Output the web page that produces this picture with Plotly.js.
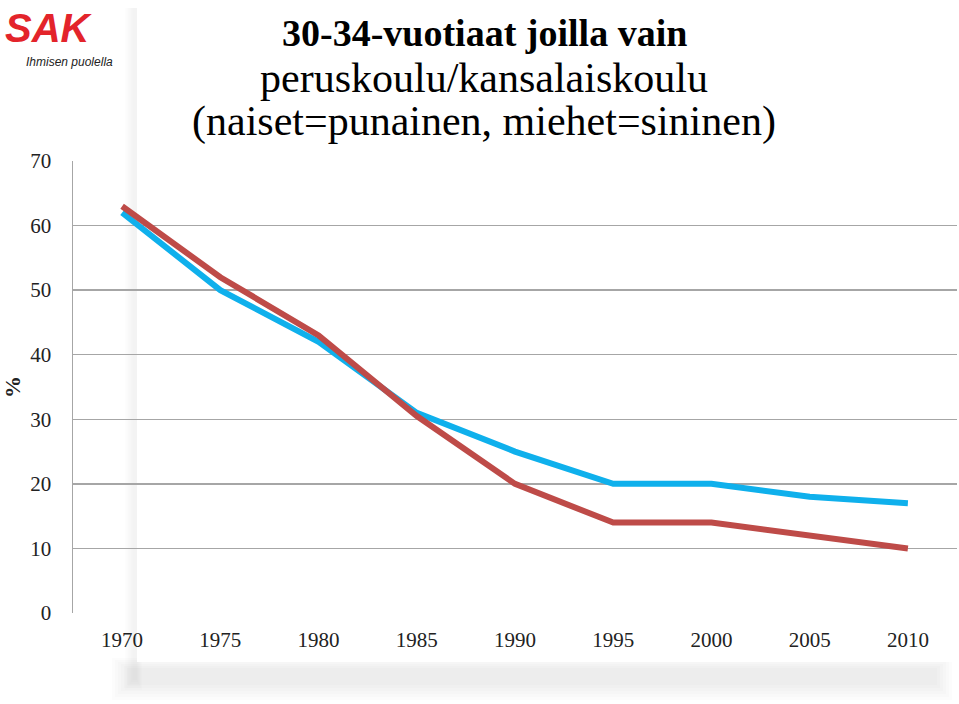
<!DOCTYPE html>
<html>
<head>
<meta charset="utf-8">
<script src="https://cdn.plot.ly/plotly-3.0.1.min.js"></script>
<style>
  body { margin: 0; background: #fff; }
  #chart { width: 959px; height: 704px; }
</style>
</head>
<body>
<div id="chart"></div>
<script>
// Data
var years = ['1970', '1975', '1980', '1985', '1990', '1995', '2000', '2005', '2010'];
var miehet = [62, 50, 42, 31, 25, 20, 20, 18, 17];      // blue
var naiset = [63, 52, 43, 30.5, 20, 14, 14, 12, 10];    // red
var yTicks = [0, 10, 20, 30, 40, 50, 60, 70];
var titleLines = ['30-34-vuotiaat joilla vain', 'peruskoulu/kansalaiskoulu', '(naiset=punainen, miehet=sininen)'];

var serif = "'Liberation Serif', 'Times New Roman', serif";
var sans = "'Liberation Sans', Arial, sans-serif";

var traceMen = {
  x: years,
  y: miehet,
  mode: 'lines',
  type: 'scatter',
  name: 'miehet',
  line: { color: '#0FB0EC', width: 6 }
};

var traceWomen = {
  x: years,
  y: naiset,
  mode: 'lines',
  type: 'scatter',
  name: 'naiset',
  line: { color: '#BE4B48', width: 6 }
};

// pixel -> paper helpers (plot area is 73..957 x 161..613)
function px(x) { return (x - 73) / 884; }
function py(y) { return (613 - y) / 452; }

// soft shadow of the slide frame
var shadows = [];
for (var i = 0; i < 6; i++) {
  shadows.push({
    type: 'rect', xref: 'paper', yref: 'paper', layer: 'below',
    x0: px(125 + i * 1.5), x1: px(142 - i), y0: py(690 - i * 2), y1: py(8),
    fillcolor: 'rgba(0,0,0,0.009)', line: { width: 0 }
  });
  shadows.push({
    type: 'rect', xref: 'paper', yref: 'paper', layer: 'below',
    x0: px(112 + i * 3), x1: px(952 - i * 3), y0: py(700 - i * 3), y1: py(658 + i * 2),
    fillcolor: 'rgba(0,0,0,0.013)', line: { width: 0 }
  });
}
shadows.push({
  type: 'rect', xref: 'paper', yref: 'paper', layer: 'below',
  x0: px(137), x1: px(957), y0: py(662), y1: py(0),
  fillcolor: '#fff', line: { width: 0 }
});

var annotations = [
  {
    text: '<b><i>SAK</i></b>',
    xref: 'paper', yref: 'paper', x: px(3), y: py(28),
    xanchor: 'left', yanchor: 'middle', showarrow: false,
    font: { family: sans, size: 40, color: '#E3242B', weight: 'bold' }
  },
  {
    text: '<i>Ihmisen puolella</i>',
    xref: 'paper', yref: 'paper', x: px(24), y: py(62),
    xanchor: 'left', yanchor: 'middle', showarrow: false,
    font: { family: sans, size: 12, color: '#222' }
  }
];
var titleY = [33, 78, 122];
titleLines.forEach(function (t, k) {
  annotations.push({
    text: k === 0 ? '<b>' + t + '</b>' : t,
    xref: 'paper', yref: 'paper', x: px(484), y: py(titleY[k]),
    xanchor: 'center', yanchor: 'middle', showarrow: false,
    font: { family: serif, size: k === 0 ? 38 : 42, color: '#000' }
  });
});

var layout = {
  width: 959,
  height: 704,
  margin: { l: 73, r: 2, t: 161, b: 91 },
  paper_bgcolor: '#fff',
  plot_bgcolor: 'rgba(0,0,0,0)',
  showlegend: false,
  xaxis: {
    type: 'category',
    range: [-0.5, 8.5],
    showgrid: false,
    zeroline: false,
    showline: false,
    ticks: '',
    tickfont: { family: serif, size: 21, color: '#222' },
    ticklabelstandoff: 12
  },
  yaxis: {
    range: [0, 70],
    tickvals: yTicks,
    ticktext: yTicks.map(String),
    showgrid: true,
    gridcolor: '#A6A6A6',
    gridwidth: 1.5,
    zeroline: false,
    showline: true,
    linecolor: '#A6A6A6',
    linewidth: 1.5,
    ticks: '',
    tickfont: { family: serif, size: 21, color: '#222' },
    ticklabelstandoff: 16,
    title: { text: '<b>%</b>', font: { family: serif, size: 22, color: '#222' }, standoff: 10 }
  },
  shapes: shadows,
  annotations: annotations
};

Plotly.newPlot('chart', [traceMen, traceWomen], layout, { displayModeBar: false, staticPlot: true });
</script>
</body>
</html>
